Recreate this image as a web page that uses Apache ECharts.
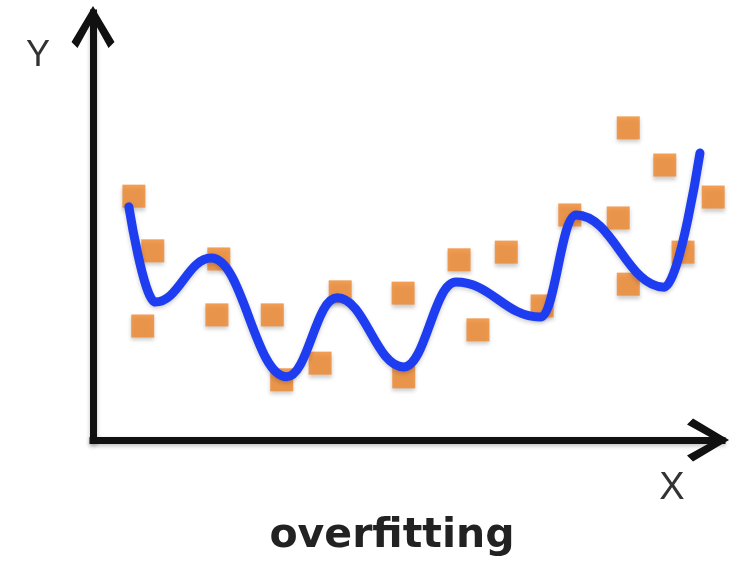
<!DOCTYPE html>
<html>
<head>
<meta charset="utf-8">
<script src="https://cdn.jsdelivr.net/npm/echarts@6/dist/echarts.min.js"></script>
<style>
html,body{margin:0;padding:0;background:#fff;}
#chart{width:744px;height:563px;}
</style>
</head>
<body>
<div id="chart"></div>
<script>
// Observed data points (orange squares)
var pointX = [6.5, 9.5, 7.9, 20.0, 19.7, 28.5, 30.0, 36.1, 39.3, 49.3, 49.4, 58.2, 61.2, 65.7, 71.4, 75.8, 83.5, 85.1, 85.1, 90.9, 93.8, 98.6];
var pointY = [57.1, 44.3, 26.7, 42.4, 29.3, 29.3, 14.1, 18.0, 34.7, 34.4, 14.8, 42.2, 25.8, 44.0, 31.4, 52.7, 52.0, 36.5, 73.1, 64.4, 44.0, 56.9];

// Overfitted curve (blue): start, local extrema, end
var curveX = [5.7, 9.9, 18.8, 30.8, 38.8, 49.4, 57.7, 71.1, 76.8, 90.8, 96.5];
var curveY = [54.6, 32.3, 42.6, 14.8, 33.3, 17.1, 37.0, 28.8, 52.7, 35.8, 67.2];

var axisNames = { x: 'X', y: 'Y' };
var caption = 'overfitting';

function zip(xs, ys) {
  return xs.map(function (x, i) { return [x, ys[i]]; });
}

var chevron = 'path://M21.5,0 L43,36 L37,42 L21.5,14 L6,42 L0,36 Z';

var axisCommon = {
  type: 'value',
  min: 0,
  max: 100,
  splitLine: { show: false },
  axisTick: { show: false },
  axisLabel: { show: false },
  axisLine: {
    show: true,
    onZero: false,
    symbol: ['none', chevron],
    symbolSize: [43, 42],
    symbolOffset: [0, -14],
    lineStyle: { color: '#111', width: 7, cap: 'square',
      shadowColor: 'rgba(0,0,0,0.25)', shadowBlur: 4, shadowOffsetY: 2 }
  }
};

var chart = echarts.init(document.getElementById('chart'), null, { renderer: 'canvas' });
chart.setOption({
  backgroundColor: '#ffffff',
  animation: false,
  grid: { left: 93, right: 22, top: 13, bottom: 123, containLabel: false },
  xAxis: axisCommon,
  yAxis: axisCommon,
  graphic: [
    { type: 'text', x: 38, y: 56, style: { text: axisNames.y, font: '36px "Liberation Sans", Arial, sans-serif', fill: '#333', align: 'center', verticalAlign: 'middle', textAlign: 'center', textVerticalAlign: 'middle' } },
    { type: 'text', x: 672, y: 489, style: { text: axisNames.x, font: '38px "Liberation Sans", Arial, sans-serif', fill: '#333', align: 'center', verticalAlign: 'middle', textAlign: 'center', textVerticalAlign: 'middle' } },
    { type: 'text', x: 392, y: 536, style: { text: caption, font: 'bold 41px "DejaVu Sans", Verdana, sans-serif', fill: '#222', align: 'center', verticalAlign: 'middle', textAlign: 'center', textVerticalAlign: 'middle' } }
  ],
  series: [
    {
      type: 'scatter',
      data: zip(pointX, pointY),
      symbol: 'rect',
      symbolSize: 23,
      itemStyle: { color: '#F0862A', shadowColor: 'rgba(0,0,0,0.25)', shadowBlur: 4, shadowOffsetY: 3 },
      z: 2
    },
    {
      type: 'line',
      data: zip(curveX, curveY),
      showSymbol: false,
      smooth: 0.42,
      smoothMonotone: 'x',
      lineStyle: { color: '#1F3DF0', width: 9, cap: 'round', join: 'round',
        shadowColor: 'rgba(0,0,0,0.2)', shadowBlur: 4, shadowOffsetY: 2 },
      z: 3
    }
  ]
});
</script>
</body>
</html>
